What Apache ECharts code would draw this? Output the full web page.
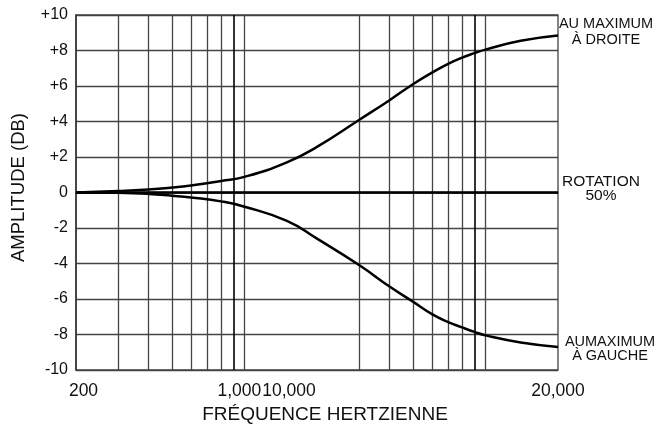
<!DOCTYPE html>
<html>
<head>
<meta charset="utf-8">
<script src="https://cdn.jsdelivr.net/npm/echarts@6/dist/echarts.min.js"></script>
<style>
  html, body { margin: 0; padding: 0; background: #fff; }
  #chart { width: 659px; height: 429px; }
</style>
</head>
<body>
<div id="chart"></div>
<script>
// frequencies (Hz) where the curves were read
var freqs = [200, 300, 400, 500, 600, 800, 1000, 1500, 2000, 3000, 4000, 5000, 6000, 7000, 8000, 9000, 10000, 14000, 20000];
var droite = [0, 0.08, 0.17, 0.28, 0.4, 0.65, 0.88, 1.7, 2.57, 4.1, 5.2, 6.1, 6.75, 7.25, 7.6, 7.85, 8.05, 8.55, 8.85];
var gauche = [0, -0.02, -0.08, -0.18, -0.28, -0.5, -0.8, -1.6, -2.6, -4.1, -5.3, -6.15, -6.85, -7.3, -7.6, -7.85, -8.05, -8.45, -8.7];
var rotation = [0, 0];
var rotationFreqs = [200, 20000];

// vertical grid lines
var gridFreqs = [300, 400, 500, 600, 700, 800, 900, 1000, 3000, 4000, 5000, 6000, 7000, 8000, 9000, 10000];
var darkFreqs = [900, 9000];

// x tick labels
var xLabelFreqs = [200, 900, 2000, 20000];
var xLabelTexts = ['{l|200}', '{m|1,000}', '{r|10,000}', '20,000'];

var chart = echarts.init(document.getElementById('chart'));

function pairs(xs, ys) {
    return xs.map(function(x, i) { return [x, ys[i]]; });
}

var gridLines = gridFreqs.map(function(f) {
    var dark = darkFreqs.indexOf(f) >= 0;
    return {
        xAxis: f,
        lineStyle: { color: dark ? '#000' : '#444', width: dark ? 1.6 : 1.3, type: 'solid' }
    };
});

var font = 'Liberation Sans, Arial, sans-serif';
var tickFont = { fontFamily: font, fontSize: 17.5, color: '#111' };

var option = {
    backgroundColor: '#fff',
    animation: false,
    grid: {
        left: 76, right: 101, top: 15, bottom: 59,
        show: true, borderColor: '#444', borderWidth: 1.3
    },
    xAxis: {
        type: 'log',
        logBase: 10,
        min: 200,
        max: 20000,
        name: 'FRÉQUENCE HERTZIENNE',
        nameLocation: 'middle',
        nameGap: 35,
        nameTextStyle: { fontFamily: font, fontSize: 19, color: '#111', padding: [0, 0, 0, 16] },
        axisLine: { show: true, lineStyle: { color: '#333', width: 1.5 } },
        axisTick: { show: false },
        splitLine: { show: false },
        minorSplitLine: { show: false },
        axisLabel: {
            customValues: xLabelFreqs,
            margin: 12,
            fontFamily: font,
            fontSize: 17.5,
            color: '#111',
            formatter: function(v) {
                var i = xLabelFreqs.indexOf(Math.round(v));
                return i >= 0 ? xLabelTexts[i] : '';
            },
            rich: {
                l: Object.assign({ padding: [0, 0, 0, 15] }, tickFont),
                m: Object.assign({ padding: [0, 0, 0, 12] }, tickFont),
                r: Object.assign({ padding: [0, 56, 0, 0] }, tickFont)
            }
        }
    },
    yAxis: {
        type: 'value',
        min: -10,
        max: 10,
        interval: 2,
        name: 'AMPLITUDE (DB)',
        nameLocation: 'middle',
        nameGap: 48,
        nameTextStyle: { fontFamily: font, fontSize: 18.5, color: '#111', padding: [0, 0, 0, 10] },
        axisLine: { show: true, lineStyle: { color: '#333', width: 1.5 } },
        axisTick: { show: false },
        splitLine: { show: true, lineStyle: { color: '#444', width: 1.3 } },
        axisLabel: {
            margin: 8,
            fontFamily: font,
            fontSize: 16,
            color: '#111',
            formatter: function(v) { return v > 0 ? '+' + v : '' + v; }
        }
    },
    series: [
        {
            name: 'ROTATION 50%',
            type: 'line',
            data: pairs(rotationFreqs, rotation),
            symbol: 'none',
            lineStyle: { color: '#000', width: 2.5 },
            z: 5,
            endLabel: {
                show: true,
                formatter: 'ROTATION\n50%',
                align: 'center',
                offset: [35, -4],
                fontFamily: font,
                fontSize: 15.5,
                lineHeight: 14,
                color: '#111'
            },
            markLine: {
                silent: true,
                symbol: 'none',
                label: { show: false },
                z: 1,
                data: gridLines
            }
        },
        {
            name: 'AU MAXIMUM À DROITE',
            type: 'line',
            data: pairs(freqs, droite),
            smooth: 0.5,
            symbol: 'none',
            lineStyle: { color: '#000', width: 2.5 },
            z: 5,
            endLabel: {
                show: true,
                formatter: 'AU MAXIMUM\nÀ DROITE',
                align: 'center',
                offset: [40, -3],
                fontFamily: font,
                fontSize: 14.5,
                lineHeight: 16,
                color: '#111'
            }
        },
        {
            name: 'AU MAXIMUM À GAUCHE',
            type: 'line',
            data: pairs(freqs, gauche),
            smooth: 0.5,
            symbol: 'none',
            lineStyle: { color: '#000', width: 2.5 },
            z: 5,
            endLabel: {
                show: true,
                formatter: 'AUMAXIMUM\nÀ GAUCHE',
                align: 'center',
                offset: [44, 2.5],
                fontFamily: font,
                fontSize: 14.5,
                lineHeight: 14,
                color: '#111'
            }
        }
    ]
};

chart.setOption(option);
</script>
</body>
</html>
